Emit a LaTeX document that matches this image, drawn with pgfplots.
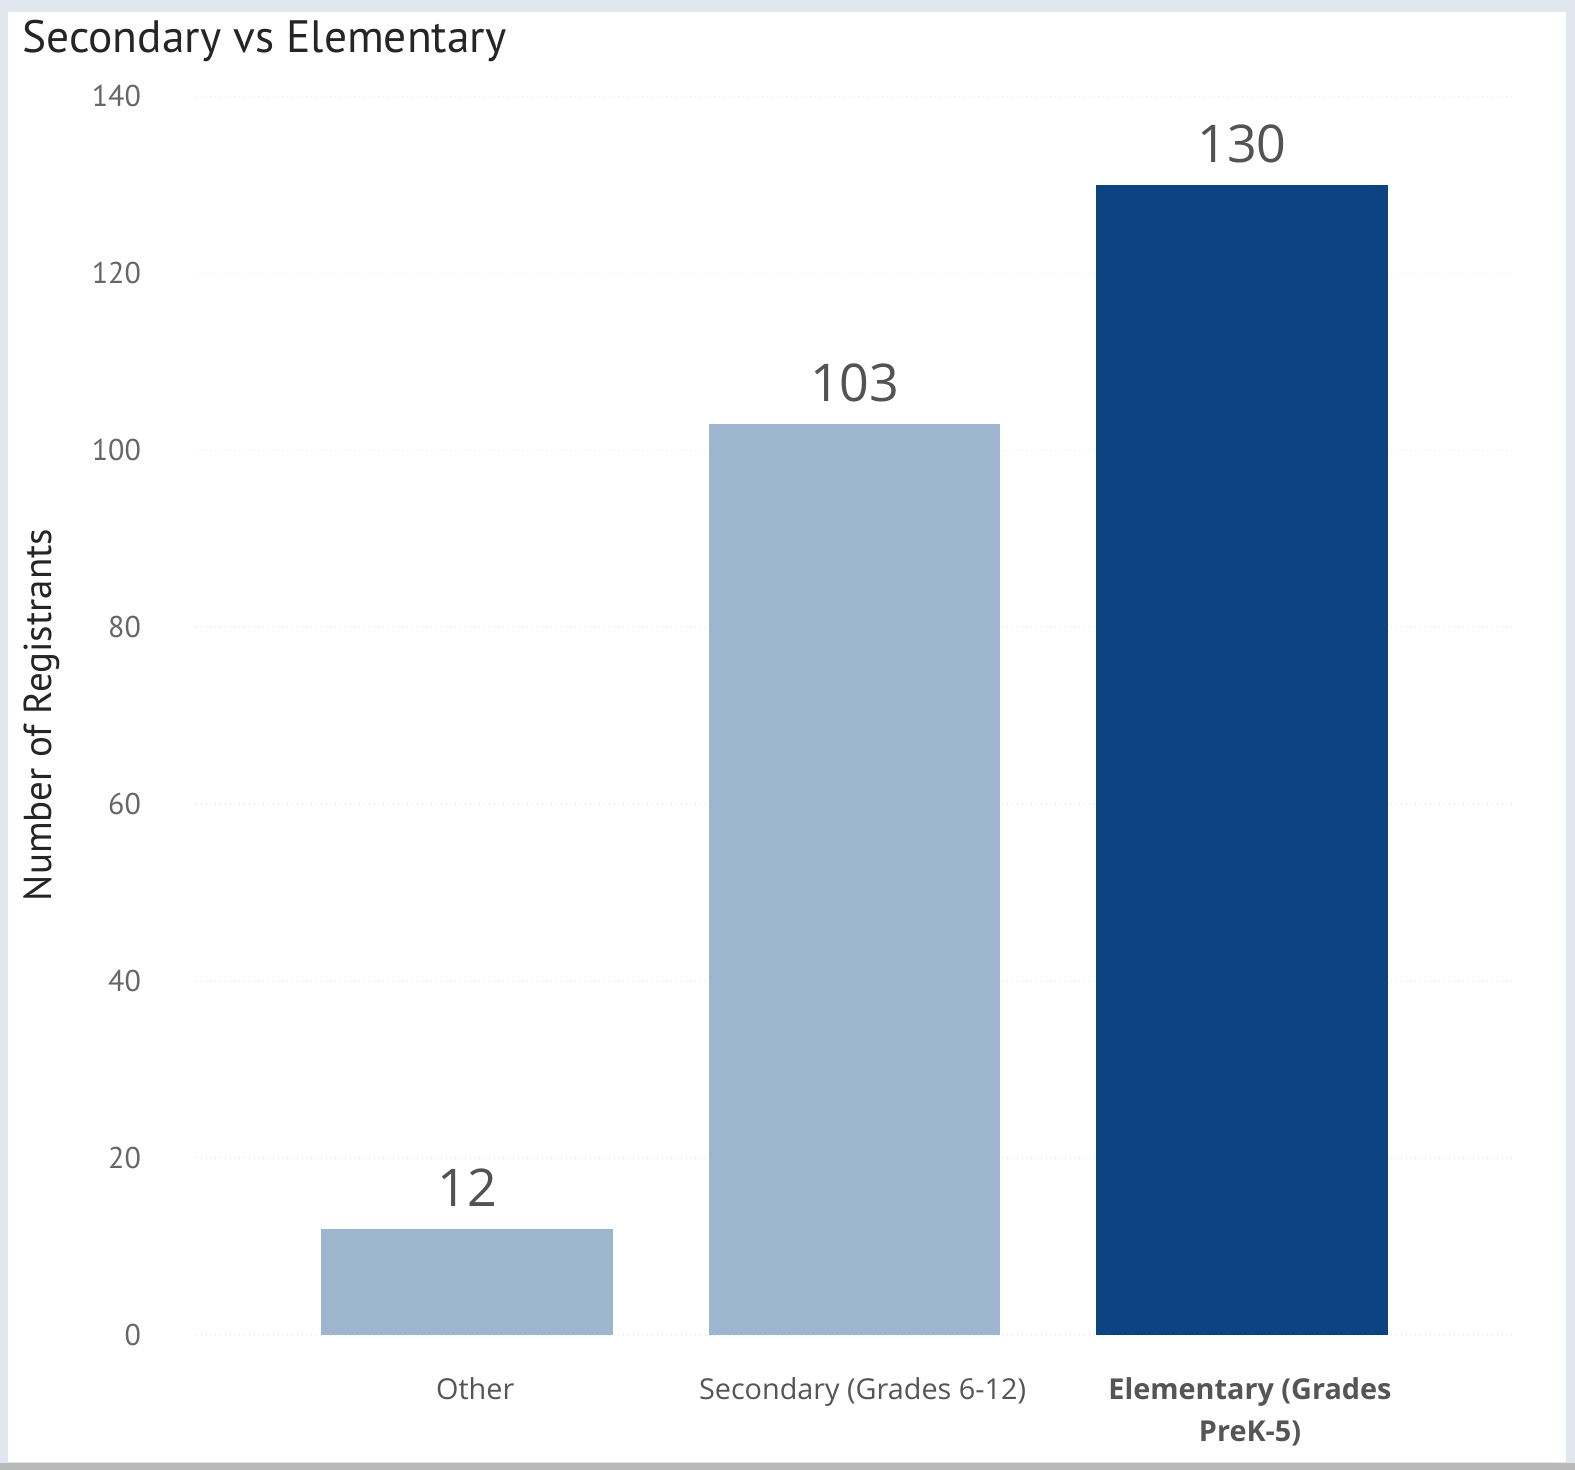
\documentclass[border=0pt]{standalone}
\usepackage{fontspec}
\setmainfont{Open Sans}
\newfontfamily\dinfont{PT Sans}
\usepackage{pgfplots}
\pgfplotsset{compat=1.18}
\definecolor{lightbar}{HTML}{9DB5CE}
\definecolor{darkbar}{HTML}{0B4480}
\definecolor{framec}{HTML}{E1E7EF}
\definecolor{titlec}{HTML}{252525}
\definecolor{tickc}{HTML}{666666}
\definecolor{catc}{HTML}{555555}
\newcommand{\elab}{\vtop{\halign{\hfil##\hfil\cr\textbf{Elementary (Grades}\cr\textbf{PreK-5)}\cr}}}
\begin{document}
\begin{tikzpicture}
\fill[framec] (0pt,0pt) rectangle (787.5pt,735pt);
\fill[white] (4pt,4pt) rectangle (783pt,729pt);
\fill[gray!55] (0pt,0pt) rectangle (787.5pt,3.5pt);
\path[use as bounding box] (0pt,0pt) rectangle (787.5pt,735pt);
\node[anchor=base west,font=\dinfont\fontsize{22.7}{26}\selectfont,text=titlec,inner sep=0pt] at (11pt,708.5pt) {Secondary vs Elementary};
\node[rotate=90,font=\dinfont\fontsize{19.5}{22}\selectfont,text=titlec,inner sep=0pt] at (21pt,377.5pt) {Number of Registrants};
\begin{axis}[
  at={(98pt,67.5pt)}, anchor=south west,
  scale only axis,
  width=658.6pt, height=619.25pt,
  xmin=-0.7, xmax=2.7,
  ymin=0, ymax=140,
  ytick={0,20,...,140},
  xtick={0,1,2},
  xticklabels={Other,Secondary (Grades 6-12),\elab},
  axis line style={draw=none},
  tick style={draw=none},
  ymajorgrids,
  grid style={gray!14, dotted, line width=0.8pt},
  /pgf/number format/assume math mode=true,
  yticklabel style={font=\dinfont\fontsize{15}{18}\selectfont, text=tickc, anchor=east, xshift=-24pt},
  xticklabel style={font=\fontsize{14.4}{21}\selectfont, text=catc, anchor=base, yshift=-28pt, xshift=4pt},
  ybar, bar width=145.7pt,
  nodes near coords,
  every node near coord/.append style={font=\fontsize{26}{30}\selectfont, text=darkgray!90, anchor=base, yshift=11pt},
]
\addplot[fill=lightbar, draw=none, bar shift=0pt] coordinates {(0,12)};
\addplot[fill=lightbar, draw=none, bar shift=0pt] coordinates {(1,103)};
\addplot[fill=darkbar, draw=none, bar shift=0pt] coordinates {(2,130)};
\end{axis}
\end{tikzpicture}
\end{document}
